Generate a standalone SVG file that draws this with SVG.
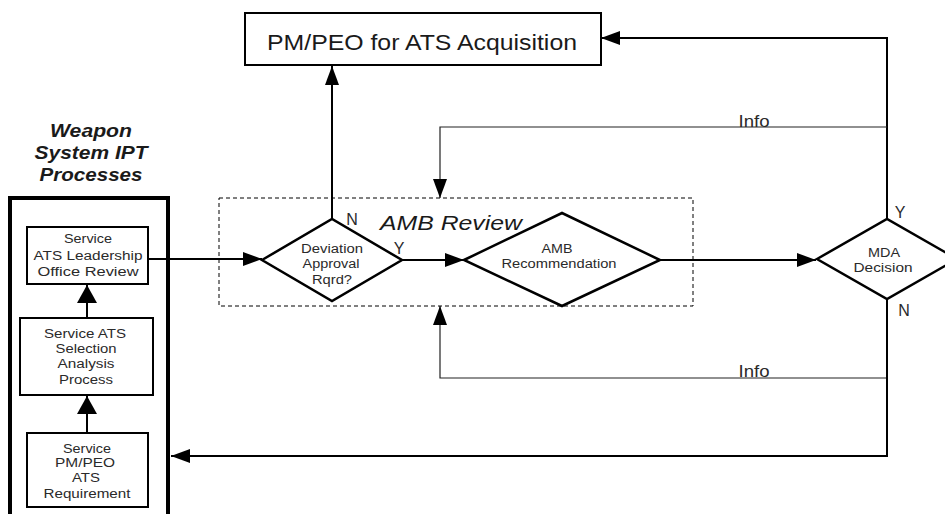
<svg xmlns="http://www.w3.org/2000/svg" width="945" height="514" viewBox="0 0 945 514">
<defs>
<marker id="ahl" markerWidth="19" markerHeight="14" viewBox="0 0 19 14" refX="19" refY="7" orient="auto" markerUnits="userSpaceOnUse">
<path d="M0,0 L19,7 L0,14 Z" fill="#000"/>
</marker>
<marker id="ahb" markerWidth="18" markerHeight="20" viewBox="0 0 18 20" refX="18" refY="10" orient="auto" markerUnits="userSpaceOnUse">
<path d="M0,0 L18,10 L0,20 Z" fill="#000"/>
</marker>
</defs>
<style>
text{font-family:"Liberation Sans",Arial,sans-serif;fill:#1a1a1a;text-anchor:middle}
.box{fill:#fff;stroke:#000;stroke-width:2}
.dia{fill:#fff;stroke:#000;stroke-width:2.5}
.c{fill:none;stroke:#000;stroke-width:2}
.thin{fill:none;stroke:#222;stroke-width:1.2}
.s{font-size:12.5px;fill:#2a2a2a}
.lbl{font-size:16px;font-weight:300;fill:#2a2a2a}
.ttl{font-size:18px;font-style:italic;font-weight:bold}
</style>
<rect width="945" height="514" fill="#fff"/>

<g id="connectors">
<line class="c" x1="148" y1="259" x2="262" y2="259" marker-end="url(#ahl)"/>
<line class="c" x1="87" y1="318" x2="87" y2="285" marker-end="url(#ahb)"/>
<line class="c" x1="87" y1="433" x2="87" y2="396" marker-end="url(#ahb)"/>
<line class="c" x1="332" y1="219" x2="332" y2="66" marker-end="url(#ahl)"/>
<line class="c" x1="402" y1="260" x2="464" y2="260" marker-end="url(#ahl)"/>
<line class="c" x1="660" y1="260" x2="816" y2="260" marker-end="url(#ahl)"/>
<polyline class="c" points="887,219 887,38 601,38" marker-end="url(#ahl)"/>
<polyline class="thin" points="887,127 440,127 440,198" marker-end="url(#ahl)"/>
<polyline class="thin" points="887,378 440,378 440,306" marker-end="url(#ahl)"/>
<polyline class="c" points="887,299 887,456 171,456" marker-end="url(#ahl)"/>
<text class="lbl" x="754" y="127" textLength="31" lengthAdjust="spacingAndGlyphs">Info</text>
<text class="lbl" x="754" y="377" textLength="31" lengthAdjust="spacingAndGlyphs">Info</text>
</g>

<g id="wsipt">
<text class="ttl" x="91" y="137" textLength="82" lengthAdjust="spacingAndGlyphs">Weapon</text>
<text class="ttl" x="91" y="159" textLength="113" lengthAdjust="spacingAndGlyphs">System IPT</text>
<text class="ttl" x="91" y="181" textLength="103" lengthAdjust="spacingAndGlyphs">Processes</text>
<rect x="10" y="198" width="158" height="330" fill="none" stroke="#000" stroke-width="4"/>
</g>

<g id="n-leadership">
<rect class="box" x="27" y="227" width="121" height="57"/>
<text class="s" x="88" y="243" textLength="48" lengthAdjust="spacingAndGlyphs">Service</text>
<text class="s" x="88" y="260" textLength="109" lengthAdjust="spacingAndGlyphs">ATS Leadership</text>
<text class="s" x="88" y="276" textLength="101" lengthAdjust="spacingAndGlyphs">Office Review</text>
</g>

<g id="n-selection">
<rect class="box" x="20" y="318" width="133" height="77"/>
<text class="s" x="85" y="338" textLength="82" lengthAdjust="spacingAndGlyphs">Service ATS</text>
<text class="s" x="86" y="353" textLength="61" lengthAdjust="spacingAndGlyphs">Selection</text>
<text class="s" x="86" y="368" textLength="57" lengthAdjust="spacingAndGlyphs">Analysis</text>
<text class="s" x="86" y="384" textLength="54" lengthAdjust="spacingAndGlyphs">Process</text>
</g>

<g id="n-requirement">
<rect class="box" x="27" y="433" width="121" height="74"/>
<text class="s" x="87" y="453" textLength="48" lengthAdjust="spacingAndGlyphs">Service</text>
<text class="s" x="85" y="467" textLength="60" lengthAdjust="spacingAndGlyphs">PM/PEO</text>
<text class="s" x="86" y="482" textLength="28" lengthAdjust="spacingAndGlyphs">ATS</text>
<text class="s" x="87" y="498" textLength="87" lengthAdjust="spacingAndGlyphs">Requirement</text>
</g>

<g id="n-pmpeo">
<rect class="box" x="245" y="13" width="356" height="52"/>
<text x="422" y="50" style="font-size:22px" textLength="310" lengthAdjust="spacingAndGlyphs">PM/PEO for ATS Acquisition</text>
</g>

<g id="amb-review">
<rect x="219" y="198" width="474" height="108" fill="none" stroke="#000" stroke-width="1" stroke-dasharray="4,3"/>
<text x="451" y="230" style="font-size:21px;font-style:italic" textLength="142" lengthAdjust="spacingAndGlyphs">AMB Review</text>
</g>

<g id="n-deviation">
<polygon class="dia" points="262,260 332,219 402,260 332,301"/>
<text class="s" x="332" y="253" textLength="62" lengthAdjust="spacingAndGlyphs">Deviation</text>
<text class="s" x="331" y="268" textLength="57" lengthAdjust="spacingAndGlyphs">Approval</text>
<text class="s" x="332" y="284" textLength="40" lengthAdjust="spacingAndGlyphs">Rqrd?</text>
<text class="lbl" x="352" y="225">N</text>
<text class="lbl" x="399" y="254">Y</text>
</g>

<g id="n-recommendation">
<polygon class="dia" points="464,260 562,213 660,260 562,306"/>
<text class="s" x="557" y="253" textLength="31" lengthAdjust="spacingAndGlyphs">AMB</text>
<text class="s" x="559" y="268" textLength="115" lengthAdjust="spacingAndGlyphs">Recommendation</text>
</g>

<g id="n-mda">
<polygon class="dia" points="817,259 887,219 957,259 887,299"/>
<text class="s" x="884" y="257" textLength="32" lengthAdjust="spacingAndGlyphs">MDA</text>
<text class="s" x="883" y="272" textLength="59" lengthAdjust="spacingAndGlyphs">Decision</text>
<text class="lbl" x="900" y="218">Y</text>
<text class="lbl" x="904" y="316">N</text>
</g>
</svg>
